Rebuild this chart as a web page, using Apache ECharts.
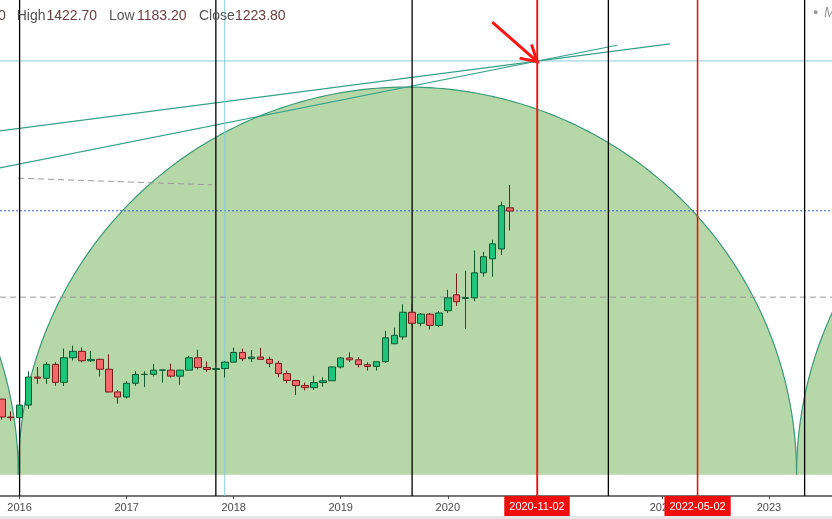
<!DOCTYPE html>
<html><head><meta charset="utf-8">
<script src="https://cdn.jsdelivr.net/npm/echarts@6/dist/echarts.min.js"></script>
<style>html,body{margin:0;padding:0;background:#fff;overflow:hidden}#c{width:832px;height:519px}</style>
</head><body><div id="c"></div>
<script>
// ---- data (monthly bars) ----
const monthLabels = [
 '2015-11','2015-12',
 '2016-01','2016-02','2016-03','2016-04','2016-05','2016-06','2016-07','2016-08','2016-09','2016-10','2016-11','2016-12',
 '2017-01','2017-02','2017-03','2017-04','2017-05','2017-06','2017-07','2017-08','2017-09','2017-10','2017-11','2017-12',
 '2018-01','2018-02','2018-03','2018-04','2018-05','2018-06','2018-07','2018-08','2018-09','2018-10','2018-11','2018-12',
 '2019-01','2019-02','2019-03','2019-04','2019-05','2019-06','2019-07','2019-08','2019-09','2019-10','2019-11','2019-12',
 '2020-01','2020-02','2020-03','2020-04','2020-05','2020-06','2020-07','2020-08'];
const openP = [1142,1064,
 1061,1116,1238,1233,1293,1215,1322,1350,1309,1315,1272,1173,
 1151,1211,1249,1250,1268,1268,1242,1268,1322,1280,1271,1275,
 1303,1345,1318,1325,1315,1298,1253,1223,1201,1192,1214,1222,
 1282,1321,1313,1292,1284,1305,1383,1413,1520,1472,1512,1463,
 1527,1596,1580,1583,1692,1753,1796,1975];
const highP = [1142,1088,
 1128,1263,1282,1303,1303,1362,1375,1367,1352,1318,1337,1181,
 1220,1264,1263,1295,1269,1296,1270,1331,1357,1306,1299,1307,
 1366,1362,1356,1365,1326,1309,1266,1224,1214,1243,1237,1284,
 1326,1346,1324,1302,1305,1439,1453,1555,1557,1517,1516,1525,
 1618,1689,1701,1789,1783,1836,2002,2075];
const lowP = [1052,1046,
 1061,1100,1208,1208,1200,1199,1310,1302,1304,1241,1171,1122,
 1145,1200,1195,1241,1214,1236,1205,1267,1271,1261,1264,1236,
 1303,1307,1303,1315,1281,1237,1211,1160,1180,1182,1196,1221,
 1276,1303,1280,1266,1266,1300,1381,1400,1459,1459,1445,1455,
 1517,1548,1448,1568,1675,1675,1770,1876];
const closeP = [1064,1061,
 1116,1238,1233,1293,1215,1322,1350,1309,1315,1272,1173,1151,
 1211,1249,1250,1268,1269,1242,1268,1322,1280,1271,1275,1303,
 1345,1318,1325,1315,1298,1253,1223,1201,1192,1214,1222,1282,
 1321,1313,1292,1284,1305,1409,1420,1520,1472,1512,1463,1517,
 1583,1566,1584,1692,1762,1818,1984,1961];

// axis labels
const yearTickLabels = ['2016','2017','2018','2019','2020','2021','2022','2023'];
// drawings (month 'YYYY-MM', price)
const cycleLineMonths = ['2016-01','2017-11','2019-09','2021-07','2023-05'];
const cyanLineMonths = ['2017-12'];
const redLineMonths = ['2020-11','2022-05'];
const redLineLabels = ['2020-11-02','2022-05-02'];
const arcStartMonth = [-87.4, -0.15, 87.1];   // month offset from 2016-01
const arcEndMonth   = [-0.15, 87.1, 174.35];
const arcTopPrice   = [2501, 2501, 2501];
const arcBasePrice  = [813, 813, 813];
const cyanLevel = 2614.6;
const dashedLevel = 1586;
const lastPriceLevel = 1962;
const trendA = [[-3, 2143], [66.97, 2683]];
const trendB = [[-3, 2306], [72.9, 2689]];
const greyDash = [[-0.18, 2104], [21.57, 2075]];
const arrowFrom = [52.99, 2784];
const arrowTo = [58.03, 2611.5];
const xMin = -2.197, xMax = 91.07, yMin = 720, yMax = 2880;

function mIdx(s){ const p = s.split('-'); return (+p[0]-2016)*12 + (+p[1]-1); }
const candleData = monthLabels.map((s,i)=>[mIdx(s), openP[i], closeP[i], lowP[i], highP[i]]);
const yearTicks = yearTickLabels.map(y => (+y - 2016) * 12);
const arcData = arcStartMonth.map((s,i)=>[s, arcEndMonth[i], arcTopPrice[i], arcBasePrice[i]]);

function vLine(m, color, width, z){
  return {type:'line', data:[[m,yMin],[m,yMax]], symbol:'none', silent:true, z:z||3,
    lineStyle:{color:color, width:width}, animation:false};
}
function seg(pts, color, width, type, z){
  return {type:'line', data:pts, symbol:'none', silent:true, z:z||3,
    lineStyle:{color:color, width:width, type:type||'solid'}, animation:false};
}

const series = [];
series.push({
  type:'custom', data: arcData, encode:{x:[0,1], y:[2,3]}, clip:true, z:1, silent:true, animation:false,
  renderItem: function(params, api){
    const p0 = api.coord([api.value(0), api.value(3)]);
    const p1 = api.coord([api.value(1), api.value(3)]);
    const pt = api.coord([(api.value(0)+api.value(1))/2, api.value(2)]);
    const cx = (p0[0]+p1[0])/2, rx = (p1[0]-p0[0])/2, ry = p0[1]-pt[1], by = p0[1];
    const pts = [];
    for (let i=0;i<=240;i++){ const a = Math.PI - Math.PI*i/240; pts.push([cx+rx*Math.cos(a), by-ry*Math.sin(a)]); }
    return {type:'group', children:[
      {type:'polygon', shape:{points:pts}, style:{fill:'#b6d7a8', stroke:null}},
      {type:'polyline', shape:{points:pts}, style:{stroke:'#3a9a78', lineWidth:1.2, fill:null}}
    ]};
  }
});
series.push(seg([[xMin,dashedLevel],[xMax,dashedLevel]], '#9a9a9a', 1, [6,4]));
series.push(seg([[xMin,lastPriceLevel],[xMax,lastPriceLevel]], '#3f5fd8', 1, [2,2]));
series.push(seg([[xMin,cyanLevel],[xMax,cyanLevel]], '#86cdd6', 1));
series.push(seg(greyDash, '#9a9a9a', 1, [6,4]));
series.push(seg(trendA, '#37a08a', 1.2));
series.push(seg(trendB, '#37a08a', 1.2));
cyanLineMonths.forEach(s => series.push(vLine(mIdx(s), '#86cdd6', 1)));
cycleLineMonths.forEach(s => series.push(vLine(mIdx(s), '#000000', 1.3, 4)));
redLineMonths.forEach(s => series.push(vLine(mIdx(s), '#ee1111', 1.3, 4)));
series.push({
  type:'candlestick', dimensions:['m','open','close','lowest','highest'],
  encode:{x:'m', y:['open','close','lowest','highest']},
  data:candleData, barWidth:7, z:6, silent:true, animation:false,
  itemStyle:{color:'#1ec47a', color0:'#f46a6a', borderColor:'#0f5a32', borderColor0:'#7a1c1c', borderWidth:1},
  markLine:{silent:true, symbol:['none','none'], animation:false,
    lineStyle:{color:'#ee1111', width:1.3, type:'solid'},
    label:{show:true, position:'start', distance:0, backgroundColor:'#f20d0d', color:'#fff',
      fontSize:11, fontFamily:'Liberation Sans, Arial', padding:[5,5,4,5]},
    data: redLineMonths.map((s,i)=>({xAxis:mIdx(s), label:{formatter:redLineLabels[i]}}))
  }
});
series.push({
  type:'custom', data:[[arrowFrom[0],arrowFrom[1],arrowTo[0],arrowTo[1]]], encode:{x:[0,2], y:[1,3]},
  z:8, silent:true, animation:false, clip:false,
  renderItem: function(params, api){
    const a = api.coord([api.value(0), api.value(1)]);
    const b = api.coord([api.value(2), api.value(3)]);
    const ang = Math.atan2(a[1]-b[1], a[0]-b[0]);
    const L = 18, w = Math.PI/6;
    const w1 = [b[0]+L*Math.cos(ang+w), b[1]+L*Math.sin(ang+w)];
    const w2 = [b[0]+L*Math.cos(ang-w), b[1]+L*Math.sin(ang-w)];
    const st = {stroke:'#ff1414', lineWidth:3, fill:null};
    return {type:'group', children:[
      {type:'line', shape:{x1:a[0],y1:a[1],x2:b[0],y2:b[1]}, style:st},
      {type:'polyline', shape:{points:[w1,b,w2]}, style:st}
    ]};
  }
});

const chart = echarts.init(document.getElementById('c'), null, {renderer:'canvas'});
const txt = (x, s, color) => ({type:'text', left:x, top:9, style:{text:s, fill:color, font:'14px "Liberation Sans", Arial'}, z:100});
chart.setOption({
  animation:false,
  backgroundColor:'#ffffff',
  grid:{left:0, right:0, top:0, bottom:23, outerBoundsMode:'none', containLabel:false},
  xAxis:{type:'value', min:xMin, max:xMax, splitLine:{show:false},
    axisLine:{onZero:false, lineStyle:{color:'#4a4a4a', width:1.5}},
    axisTick:{show:true, customValues:yearTicks, length:3, lineStyle:{color:'#4a4a4a'}},
    axisLabel:{customValues:yearTicks, color:'#4a4a4a', fontSize:11, margin:6,
      fontFamily:'Liberation Sans, Arial',
      formatter: v => yearTickLabels[yearTicks.indexOf(Math.round(v))] || ''}
  },
  yAxis:{type:'value', min:yMin, max:yMax, show:false, splitLine:{show:false}},
  series: series,
  graphic:[
    {type:'rect', shape:{x:0, y:516, width:832, height:3}, style:{fill:'#e4e6e8'}, z:100},
    txt(-2, '0', '#5a4747'),
    txt(16.7, 'High', '#555555'),
    txt(46.5, '1422.70', '#6b4040'),
    txt(109, 'Low', '#555555'),
    txt(137, '1183.20', '#6b4040'),
    txt(199, 'Close', '#555555'),
    txt(235, '1223.80', '#6b4040'),
    {type:'text', left:813, top:8, style:{text:'●', fill:'#9a9a9a', font:'9px Arial'}, z:100},
    {type:'text', left:824, top:6, style:{text:'M', fill:'#9a9a9a', font:'italic 14px "Liberation Sans", Arial'}, z:100}
  ]
});
</script>
</body></html>
